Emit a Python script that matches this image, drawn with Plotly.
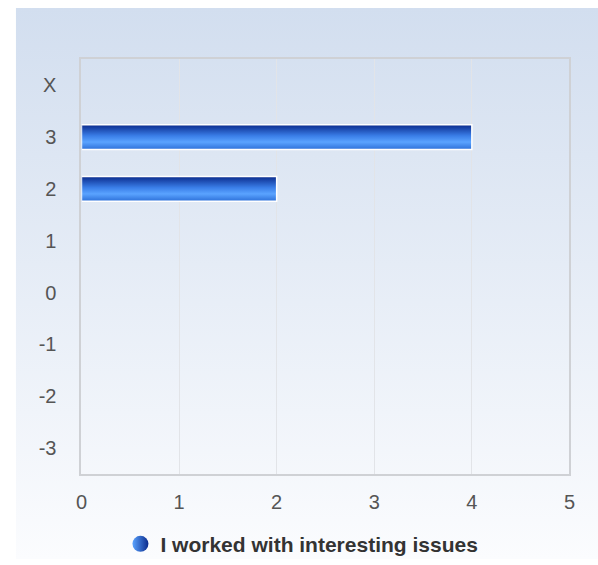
import plotly.graph_objects as go

# ---- data ----
categories = ["-3", "-2", "-1", "0", "1", "2", "3", "X"]
bar_categories = ["3", "2"]
bar_values = [4, 2]
x_ticks = [0, 1, 2, 3, 4, 5]
series_name = "I worked with interesting issues"

W, H = 598, 565
def px(x): return x / W
def py(y): return 1 - y / H

fig = go.Figure()

half = 0.24
grad = [[0.0, "#2c6fd8"], [0.3, "#5aa3ff"], [0.55, "#3a7ee8"], [1.0, "#0a2a8c"]]
for cat, val in zip(bar_categories, bar_values):
    i = categories.index(cat)
    fig.add_trace(go.Scatter(
        x=[0, val, val, 0, 0],
        y=[i - half, i - half, i + half, i + half, i - half],
        mode="lines", fill="toself",
        line=dict(color="white", width=1.5),
        fillgradient=dict(type="vertical", colorscale=grad),
        showlegend=False, hoverinfo="skip",
    ))

fig.add_trace(go.Scatter(
    x=[None], y=[None], mode="markers", name=series_name,
    marker=dict(symbol="circle", size=20, color="#5aa3ff",
                gradient=dict(type="horizontal", color="#0a2a8c")),
))

svg = ("data:image/svg+xml;utf8,<svg xmlns='http://www.w3.org/2000/svg' width='100' height='100' "
       "preserveAspectRatio='none'><defs><linearGradient id='g' x1='0' y1='0' x2='0' y2='1'>"
       "<stop offset='0' stop-color='%23d2deef'/><stop offset='1' stop-color='%23fbfcfe'/>"
       "</linearGradient></defs><rect width='100' height='100' fill='url(%23g)'/></svg>")

fig.update_layout(
    width=W, height=H,
    margin=dict(l=0, r=0, t=0, b=0),
    paper_bgcolor="white", plot_bgcolor="rgba(0,0,0,0)",
    font=dict(family="Liberation Sans, Arial, sans-serif", color="#555555", size=20),
    images=[dict(source=svg, xref="paper", yref="paper", x=px(10), y=py(8),
                 sizex=1.0, sizey=py(8), xanchor="left", yanchor="top",
                 sizing="stretch", layer="below")],
    xaxis=dict(domain=[px(77), px(575)], range=[0, 5], tickvals=x_ticks,
               showgrid=True, gridcolor="#e2e4e8", gridwidth=1,
               showline=True, linecolor="#cfd1d5", linewidth=2, mirror=True,
               zeroline=False, ticks="", ticklabelstandoff=9, fixedrange=True),
    yaxis=dict(domain=[py(479), py(60)], range=[-0.5, 7.5],
               tickvals=list(range(len(categories))), ticktext=categories,
               showgrid=False, showline=True, linecolor="#cfd1d5", linewidth=2,
               mirror=True, zeroline=False, ticks="", ticklabelstandoff=19,
               fixedrange=True),
    showlegend=True,
    legend=dict(orientation="h", x=px(302), xanchor="center", y=py(550), yanchor="middle",
                font=dict(size=21, color="#333333", family="Liberation Sans, Arial, sans-serif",
                          weight="bold"),
                bgcolor="rgba(0,0,0,0)", itemsizing="trace"),
)

fig.write_html("out.html")
